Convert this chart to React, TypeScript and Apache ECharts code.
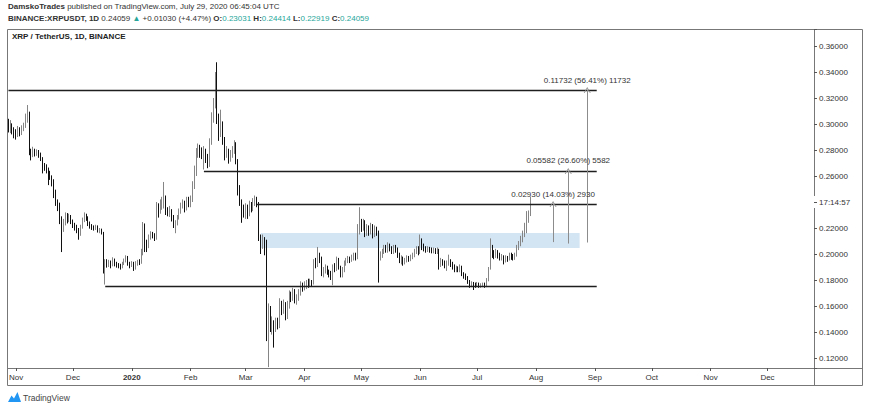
import React, { useEffect, useRef } from "react";
import * as echarts from "echarts";

// Daily candles, rows are [open, close, low, high]
const oct2019 = [
  [0.3000, 0.2960, 0.2935, 0.3040], [0.2960, 0.2985, 0.2930, 0.3030], [0.2985, 0.2955, 0.2920, 0.3005], [0.2955, 0.2935, 0.2890, 0.2975],
];
const nov2019 = [
  [0.2935, 0.2920, 0.2880, 0.2960], [0.2920, 0.2960, 0.2900, 0.2985], [0.2960, 0.2925, 0.2905, 0.2975], [0.2925, 0.2975, 0.2915, 0.2990],
  [0.2975, 0.2985, 0.2945, 0.3010], [0.2985, 0.3050, 0.2970, 0.3080], [0.3050, 0.3090, 0.3010, 0.3146], [0.3090, 0.2790, 0.2760, 0.3095],
  [0.2790, 0.2760, 0.2720, 0.2810], [0.2760, 0.2795, 0.2745, 0.2825], [0.2795, 0.2775, 0.2750, 0.2810], [0.2775, 0.2785, 0.2755, 0.2805],
  [0.2785, 0.2765, 0.2740, 0.2800], [0.2765, 0.2735, 0.2715, 0.2780], [0.2735, 0.2680, 0.2620, 0.2745], [0.2680, 0.2665, 0.2640, 0.2700],
  [0.2665, 0.2650, 0.2620, 0.2690], [0.2650, 0.2620, 0.2530, 0.2665], [0.2620, 0.2590, 0.2570, 0.2640], [0.2590, 0.2560, 0.2520, 0.2605],
  [0.2560, 0.2480, 0.2430, 0.2575], [0.2480, 0.2400, 0.2370, 0.2495], [0.2400, 0.2380, 0.2330, 0.2420], [0.2380, 0.2260, 0.2230, 0.2395],
  [0.2260, 0.2230, 0.2015, 0.2290], [0.2230, 0.2240, 0.2170, 0.2270], [0.2240, 0.2290, 0.2220, 0.2320], [0.2290, 0.2260, 0.2235, 0.2315],
  [0.2260, 0.2290, 0.2245, 0.2310], [0.2290, 0.2250, 0.2230, 0.2300],
];
const dec2019 = [
  [0.2250, 0.2220, 0.2200, 0.2265], [0.2220, 0.2205, 0.2180, 0.2240], [0.2205, 0.2190, 0.2160, 0.2225], [0.2190, 0.2150, 0.2110, 0.2200],
  [0.2150, 0.2210, 0.2140, 0.2225], [0.2210, 0.2260, 0.2195, 0.2280], [0.2260, 0.2300, 0.2245, 0.2320], [0.2300, 0.2280, 0.2255, 0.2310],
  [0.2280, 0.2235, 0.2215, 0.2290], [0.2235, 0.2215, 0.2195, 0.2250], [0.2215, 0.2205, 0.2185, 0.2230], [0.2205, 0.2200, 0.2180, 0.2220],
  [0.2200, 0.2210, 0.2185, 0.2225], [0.2210, 0.2180, 0.2165, 0.2220], [0.2180, 0.2185, 0.2160, 0.2200], [0.2185, 0.2165, 0.2150, 0.2195],
  [0.2165, 0.1890, 0.1850, 0.2170], [0.1890, 0.1945, 0.1765, 0.1960], [0.1945, 0.1920, 0.1895, 0.1960], [0.1920, 0.1935, 0.1900, 0.1955],
  [0.1935, 0.1915, 0.1890, 0.1950], [0.1915, 0.1955, 0.1905, 0.1975], [0.1955, 0.1925, 0.1905, 0.1965], [0.1925, 0.1915, 0.1895, 0.1940],
  [0.1915, 0.1905, 0.1890, 0.1930], [0.1905, 0.1900, 0.1880, 0.1925], [0.1900, 0.1925, 0.1890, 0.1940], [0.1925, 0.1945, 0.1915, 0.1965],
  [0.1945, 0.1975, 0.1935, 0.1990], [0.1975, 0.1925, 0.1910, 0.1985], [0.1925, 0.1915, 0.1890, 0.1940],
];
const jan2020 = [
  [0.1915, 0.1930, 0.1900, 0.1945], [0.1930, 0.1890, 0.1870, 0.1940], [0.1890, 0.1925, 0.1880, 0.1945], [0.1925, 0.1940, 0.1910, 0.1955],
  [0.1940, 0.1935, 0.1915, 0.1960], [0.1935, 0.2000, 0.1925, 0.2040], [0.2000, 0.2220, 0.1990, 0.2246], [0.2220, 0.2090, 0.2015, 0.2235],
  [0.2090, 0.2060, 0.2015, 0.2110], [0.2060, 0.2130, 0.2045, 0.2150], [0.2130, 0.2150, 0.2110, 0.2175], [0.2150, 0.2140, 0.2120, 0.2170],
  [0.2140, 0.2120, 0.2100, 0.2160], [0.2120, 0.2350, 0.2110, 0.2400], [0.2350, 0.2330, 0.2280, 0.2390], [0.2330, 0.2380, 0.2310, 0.2420],
  [0.2380, 0.2390, 0.2340, 0.2440], [0.2390, 0.2420, 0.2350, 0.2554], [0.2420, 0.2330, 0.2300, 0.2450], [0.2330, 0.2320, 0.2290, 0.2360],
  [0.2320, 0.2330, 0.2285, 0.2370], [0.2330, 0.2290, 0.2250, 0.2345], [0.2290, 0.2230, 0.2200, 0.2300], [0.2230, 0.2240, 0.2160, 0.2260],
  [0.2240, 0.2280, 0.2220, 0.2300], [0.2280, 0.2330, 0.2265, 0.2350], [0.2330, 0.2370, 0.2310, 0.2395], [0.2370, 0.2390, 0.2350, 0.2420],
  [0.2390, 0.2350, 0.2320, 0.2410], [0.2350, 0.2410, 0.2335, 0.2440], [0.2410, 0.2380, 0.2360, 0.2440],
];
const feb2020 = [
  [0.2380, 0.2420, 0.2360, 0.2450], [0.2420, 0.2520, 0.2400, 0.2560], [0.2520, 0.2620, 0.2500, 0.2680], [0.2620, 0.2780, 0.2600, 0.2815],
  [0.2780, 0.2810, 0.2740, 0.2850], [0.2810, 0.2780, 0.2740, 0.2840], [0.2780, 0.2770, 0.2730, 0.2820], [0.2770, 0.2790, 0.2650, 0.2830],
  [0.2790, 0.2750, 0.2700, 0.2810], [0.2750, 0.2690, 0.2660, 0.2770], [0.2690, 0.2860, 0.2670, 0.2890], [0.2860, 0.3050, 0.2840, 0.3090],
  [0.3050, 0.3150, 0.3010, 0.3200], [0.3150, 0.3340, 0.3120, 0.3400], [0.3340, 0.3050, 0.3000, 0.3475], [0.3050, 0.2950, 0.2870, 0.3080],
  [0.2950, 0.3000, 0.2900, 0.3110], [0.3000, 0.2880, 0.2840, 0.3020], [0.2880, 0.2780, 0.2720, 0.2900], [0.2780, 0.2790, 0.2740, 0.2830],
  [0.2790, 0.2740, 0.2695, 0.2810], [0.2740, 0.2770, 0.2710, 0.2800], [0.2770, 0.2800, 0.2740, 0.2830], [0.2800, 0.2840, 0.2770, 0.2875],
  [0.2840, 0.2720, 0.2690, 0.2860], [0.2720, 0.2500, 0.2450, 0.2730], [0.2500, 0.2400, 0.2370, 0.2530], [0.2400, 0.2340, 0.2240, 0.2420],
  [0.2340, 0.2300, 0.2280, 0.2380],
];
const mar2020 = [
  [0.2300, 0.2360, 0.2270, 0.2390], [0.2360, 0.2310, 0.2270, 0.2380], [0.2310, 0.2380, 0.2290, 0.2410], [0.2380, 0.2350, 0.2320, 0.2400],
  [0.2350, 0.2410, 0.2330, 0.2430], [0.2410, 0.2420, 0.2370, 0.2450], [0.2420, 0.2390, 0.2360, 0.2440], [0.2390, 0.2120, 0.2100, 0.2400],
  [0.2120, 0.2090, 0.2000, 0.2150], [0.2090, 0.2110, 0.2040, 0.2150], [0.2110, 0.2080, 0.1990, 0.2130], [0.2080, 0.1380, 0.1330, 0.2110],
  [0.1380, 0.1560, 0.1130, 0.1620], [0.1560, 0.1420, 0.1400, 0.1600], [0.1420, 0.1450, 0.1380, 0.1520], [0.1450, 0.1420, 0.1280, 0.1490],
  [0.1420, 0.1480, 0.1400, 0.1510], [0.1480, 0.1450, 0.1420, 0.1510], [0.1450, 0.1620, 0.1430, 0.1660], [0.1620, 0.1560, 0.1530, 0.1640],
  [0.1560, 0.1610, 0.1540, 0.1650], [0.1610, 0.1510, 0.1490, 0.1630], [0.1510, 0.1600, 0.1500, 0.1640], [0.1600, 0.1680, 0.1580, 0.1720],
  [0.1680, 0.1660, 0.1630, 0.1710], [0.1660, 0.1710, 0.1640, 0.1740], [0.1710, 0.1640, 0.1620, 0.1730], [0.1640, 0.1660, 0.1610, 0.1690],
  [0.1660, 0.1700, 0.1640, 0.1730], [0.1700, 0.1760, 0.1680, 0.1790], [0.1760, 0.1740, 0.1710, 0.1780],
];
const apr2020 = [
  [0.1740, 0.1750, 0.1720, 0.1790], [0.1750, 0.1780, 0.1730, 0.1800], [0.1780, 0.1760, 0.1740, 0.1810], [0.1760, 0.1790, 0.1745, 0.1810],
  [0.1790, 0.1775, 0.1750, 0.1800], [0.1775, 0.1940, 0.1765, 0.1960], [0.1940, 0.1920, 0.1890, 0.1970], [0.1920, 0.1980, 0.1900, 0.2054],
  [0.1980, 0.1960, 0.1930, 0.2010], [0.1960, 0.1850, 0.1830, 0.1980], [0.1850, 0.1870, 0.1820, 0.1900], [0.1870, 0.1890, 0.1850, 0.1920],
  [0.1890, 0.1860, 0.1840, 0.1910], [0.1860, 0.1850, 0.1820, 0.1880], [0.1850, 0.1820, 0.1800, 0.1870], [0.1820, 0.1900, 0.1760, 0.1920],
  [0.1900, 0.1890, 0.1860, 0.1930], [0.1890, 0.1950, 0.1870, 0.1980], [0.1950, 0.1900, 0.1880, 0.1970], [0.1900, 0.1840, 0.1820, 0.1910],
  [0.1840, 0.1880, 0.1820, 0.1900], [0.1880, 0.1930, 0.1860, 0.1950], [0.1930, 0.1950, 0.1910, 0.1970], [0.1950, 0.1960, 0.1930, 0.1985],
  [0.1960, 0.1950, 0.1930, 0.1980], [0.1950, 0.1975, 0.1940, 0.1995], [0.1975, 0.1990, 0.1950, 0.2010], [0.1990, 0.1970, 0.1950, 0.2010],
  [0.1970, 0.2200, 0.1960, 0.2230], [0.2200, 0.2240, 0.2150, 0.2360],
];
const may2020 = [
  [0.2240, 0.2200, 0.2170, 0.2270], [0.2200, 0.2250, 0.2180, 0.2270], [0.2250, 0.2160, 0.2130, 0.2260], [0.2160, 0.2200, 0.2140, 0.2230],
  [0.2200, 0.2170, 0.2140, 0.2220], [0.2170, 0.2210, 0.2150, 0.2240], [0.2210, 0.2150, 0.2120, 0.2230], [0.2150, 0.2190, 0.2130, 0.2220],
  [0.2190, 0.2170, 0.2140, 0.2210], [0.2170, 0.1980, 0.1780, 0.2180], [0.1980, 0.1990, 0.1950, 0.2020], [0.1990, 0.2020, 0.1970, 0.2040],
  [0.2020, 0.2050, 0.2000, 0.2070], [0.2050, 0.2030, 0.2010, 0.2070], [0.2030, 0.2060, 0.2010, 0.2090], [0.2060, 0.2040, 0.2020, 0.2080],
  [0.2040, 0.2020, 0.2000, 0.2060], [0.2020, 0.2050, 0.2000, 0.2070], [0.2050, 0.2030, 0.2010, 0.2070], [0.2030, 0.1990, 0.1970, 0.2050],
  [0.1990, 0.1950, 0.1930, 0.2010], [0.1950, 0.1960, 0.1920, 0.1990], [0.1960, 0.1930, 0.1910, 0.1980], [0.1930, 0.1950, 0.1920, 0.1970],
  [0.1950, 0.1970, 0.1935, 0.1990], [0.1970, 0.1960, 0.1940, 0.1985], [0.1960, 0.1980, 0.1945, 0.1995], [0.1980, 0.1990, 0.1960, 0.2010],
  [0.1990, 0.2020, 0.1975, 0.2040], [0.2020, 0.2040, 0.2000, 0.2060], [0.2040, 0.2010, 0.1990, 0.2060],
];
const jun2020 = [
  [0.2010, 0.2100, 0.2000, 0.2150], [0.2100, 0.2060, 0.2030, 0.2120], [0.2060, 0.2040, 0.2020, 0.2080], [0.2040, 0.2030, 0.2010, 0.2060],
  [0.2030, 0.2040, 0.2015, 0.2060], [0.2040, 0.2030, 0.2010, 0.2055], [0.2030, 0.2025, 0.2005, 0.2050], [0.2025, 0.2030, 0.2005, 0.2050],
  [0.2030, 0.2020, 0.2000, 0.2045], [0.2020, 0.2030, 0.2000, 0.2050], [0.2030, 0.1930, 0.1880, 0.2040], [0.1930, 0.1940, 0.1900, 0.1970],
  [0.1940, 0.1930, 0.1910, 0.1960], [0.1930, 0.1910, 0.1890, 0.1950], [0.1910, 0.1930, 0.1870, 0.1950], [0.1930, 0.1940, 0.1910, 0.1995],
  [0.1940, 0.1920, 0.1900, 0.1960], [0.1920, 0.1900, 0.1880, 0.1940], [0.1900, 0.1880, 0.1860, 0.1920], [0.1880, 0.1890, 0.1860, 0.1910],
  [0.1890, 0.1880, 0.1860, 0.1905], [0.1880, 0.1900, 0.1860, 0.1920], [0.1900, 0.1850, 0.1830, 0.1910], [0.1850, 0.1830, 0.1810, 0.1860],
  [0.1830, 0.1820, 0.1800, 0.1850], [0.1820, 0.1790, 0.1770, 0.1830], [0.1790, 0.1760, 0.1740, 0.1800], [0.1760, 0.1770, 0.1745, 0.1790],
  [0.1770, 0.1760, 0.1723, 0.1785], [0.1760, 0.1755, 0.1740, 0.1780],
];
const jul2020 = [
  [0.1755, 0.1770, 0.1745, 0.1785], [0.1770, 0.1755, 0.1740, 0.1780], [0.1755, 0.1760, 0.1740, 0.1775], [0.1760, 0.1765, 0.1745, 0.1780],
  [0.1765, 0.1755, 0.1740, 0.1780], [0.1755, 0.1800, 0.1745, 0.1815], [0.1800, 0.1890, 0.1790, 0.1900], [0.1890, 0.2050, 0.1880, 0.2120],
  [0.2050, 0.2000, 0.1970, 0.2070], [0.2000, 0.1990, 0.1960, 0.2030], [0.1990, 0.2010, 0.1970, 0.2040], [0.2010, 0.1990, 0.1965, 0.2030],
  [0.1990, 0.1970, 0.1950, 0.2010], [0.1970, 0.1980, 0.1950, 0.2000], [0.1980, 0.1950, 0.1920, 0.1990], [0.1950, 0.1970, 0.1935, 0.1990],
  [0.1970, 0.1960, 0.1940, 0.1985], [0.1960, 0.1990, 0.1950, 0.2010], [0.1990, 0.1980, 0.1955, 0.2010], [0.1980, 0.1970, 0.1950, 0.2000],
  [0.1970, 0.1990, 0.1955, 0.2010], [0.1990, 0.2050, 0.1980, 0.2070], [0.2050, 0.2080, 0.2030, 0.2100], [0.2080, 0.2110, 0.2060, 0.2140],
  [0.2110, 0.2160, 0.2090, 0.2180], [0.2160, 0.2200, 0.2130, 0.2240], [0.2200, 0.2290, 0.2160, 0.2330], [0.2290, 0.2303, 0.2240, 0.2335],
  [0.23031, 0.24059, 0.22919, 0.24414],
];

// Axis span (dates shown on the time axis and the price range)
const firstDate = "2019-10-28";
const lastDate = "2020-12-25";
const priceMin = 0.11231;
const priceMax = 0.37308;
const monthNames = ["Jan", "Feb", "Mar", "Apr", "May", "Jun", "Jul", "Aug", "Sep", "Oct", "Nov", "Dec"];

// Drawn levels and measuring arrows
const levelPrices = [0.32615, 0.26385, 0.23846, 0.17538];
const levelStarts = ["2019-10-28", "2020-02-08", "2020-03-07", "2019-12-18"];
const levelEnd = "2020-09-02";
const zoneBounds = [0.2162, 0.2046];
const zoneDates = ["2020-03-09", "2020-08-24"];
const arrowDates = ["2020-08-10", "2020-08-18", "2020-08-28"];
const arrowFrom = [0.20916, 0.20803, 0.20883];
const arrowTo = [0.23846, 0.26385, 0.32615];
const arrowTexts = ["0.02930 (14.03%) 2930", "0.05582 (26.60%) 5582", "0.11732 (56.41%) 11732"];

function buildDates(start: string, end: string): string[] {
  const out: string[] = [];
  const [sy, sm, sd] = start.split("-").map(Number);
  const [ey, em, ed] = end.split("-").map(Number);
  let t = Date.UTC(sy, sm - 1, sd);
  const tEnd = Date.UTC(ey, em - 1, ed);
  while (t <= tEnd) {
    const d = new Date(t);
    const s = d.getUTCFullYear() + "-" + String(d.getUTCMonth() + 1).padStart(2, "0") + "-" + String(d.getUTCDate()).padStart(2, "0");
    out.push(s);
    t += 86400000;
  }
  return out;
}

const FONT = "Liberation Sans, Arial, sans-serif";
const GREEN = "#26a69a";

export default function App() {
  const ref = useRef<HTMLDivElement>(null);
  useEffect(() => {
    document.body.style.margin = "0";
    if (!ref.current) return;
    const chart = echarts.init(ref.current, undefined, { renderer: "svg" });
    const dates = buildDates(firstDate, lastDate);
    const candles = [
      ...oct2019, ...nov2019, ...dec2019, ...jan2020, ...feb2020, ...mar2020,
      ...apr2020, ...may2020, ...jun2020, ...jul2020,
    ];
    const isMonthStart = (_i: number, v: string) => v.endsWith("-01");
    const chevron = "path://M0,10 L5,0 L10,10 L8.8,10 L5,2.6 L1.2,10 Z";

    const lineData: any[] = [];
    levelPrices.forEach((p, i) => {
      lineData.push([
        { coord: [levelStarts[i], p], symbol: "none", lineStyle: { color: "#1e1e1e", width: 1.3, type: "solid" }, label: { show: false } },
        { coord: [levelEnd, p], symbol: "none" },
      ]);
    });
    arrowDates.forEach((d, i) => {
      lineData.push([
        {
          coord: [d, arrowFrom[i]], symbol: "none",
          lineStyle: { color: "#8c8c8c", width: 1, type: "solid" },
          label: { show: true, position: "end", distance: 6, formatter: arrowTexts[i], fontSize: 8, color: "#333", fontFamily: FONT },
        },
        { coord: [d, arrowTo[i]], symbol: chevron, symbolSize: [7, 6] },
      ]);
    });

    chart.setOption({
      animation: false,
      backgroundColor: "#ffffff",
      grid: { left: 7.5, right: 57, top: 29, bottom: 38, containLabel: false },
      xAxis: {
        type: "category",
        data: dates,
        boundaryGap: true,
        axisLine: { show: false },
        axisTick: { show: true, interval: isMonthStart, alignWithLabel: true, length: 3, lineStyle: { color: "#555" } },
        axisLabel: {
          interval: isMonthStart,
          margin: 5,
          fontSize: 8,
          color: "#333",
          fontFamily: FONT,
          formatter: (v: string) => {
            const [y, m] = v.split("-").map(Number);
            return m === 1 ? "{y|" + y + "}" : monthNames[m - 1];
          },
          rich: { y: { fontWeight: "bold", fontSize: 8, color: "#333", fontFamily: FONT } },
        },
        splitLine: { show: false },
      },
      yAxis: {
        type: "value",
        position: "right",
        min: priceMin,
        max: priceMax,
        splitNumber: 12,
        scale: true,
        axisLine: { show: false },
        axisTick: { show: true, length: 3, lineStyle: { color: "#555" } },
        axisLabel: {
          margin: 5,
          fontSize: 8,
          color: "#333",
          fontFamily: FONT,
          formatter: (v: number) => {
            const k = v / 0.02;
            if (Math.abs(k - Math.round(k)) > 1e-6) return "";
            if (Math.abs(v - 0.24) < 1e-6) return "";
            return v.toFixed(5);
          },
        },
        splitLine: { show: false },
      },
      series: [
        {
          type: "line",
          data: [],
          z: 1,
          silent: true,
          markArea: {
            silent: true,
            itemStyle: { color: "#d3e4f3" },
            data: [[{ coord: [zoneDates[0], zoneBounds[0]] }, { coord: [zoneDates[1], zoneBounds[1]] }]],
          },
        },
        {
          type: "candlestick",
          data: candles,
          z: 3,
          barWidth: 1.3,
          itemStyle: {
            color: "#858585",
            color0: "#101010",
            borderColor: "#858585",
            borderColor0: "#101010",
            borderWidth: 1,
          },
          markLine: {
            silent: true,
            animation: false,
            symbol: ["none", "none"],
            precision: 5,
            data: lineData,
          },
        },
      ],
      graphic: [
        { type: "rect", shape: { x: 7.5, y: 29.5, width: 855, height: 356 }, style: { fill: "none", stroke: "#777", lineWidth: 1 }, silent: true },
        { type: "line", shape: { x1: 7.5, y1: 368.5, x2: 862.5, y2: 368.5 }, style: { stroke: "#777", lineWidth: 1 }, silent: true },
        { type: "line", shape: { x1: 814.5, y1: 29.5, x2: 814.5, y2: 196 }, style: { stroke: "#777", lineWidth: 1 }, silent: true },
        { type: "line", shape: { x1: 814.5, y1: 208, x2: 814.5, y2: 385.5 }, style: { stroke: "#777", lineWidth: 1 }, silent: true },
        {
          type: "text", x: 819, y: 202,
          style: { text: "17:14:57", fontSize: 8, fill: "#333", fontFamily: FONT, verticalAlign: "middle" },
          silent: true,
        },
        {
          type: "text", x: 8, y: 6,
          style: {
            text: "{b|DamskoTrades} published on TradingView.com, July 29, 2020 06:45:04 UTC",
            fontSize: 8, fill: "#333", fontFamily: FONT, verticalAlign: "middle",
            rich: { b: { fontWeight: "bold", fontSize: 8, fill: "#333", fontFamily: FONT } },
          },
          silent: true,
        },
        {
          type: "text", x: 8, y: 18,
          style: {
            text: "{b|BINANCE:XRPUSDT, 1D} 0.24059 {g|▲} +0.01030 (+4.47%) {b|O:}{g|0.23031} {b|H:}{g|0.24414} {b|L:}{g|0.22919} {b|C:}{g|0.24059}",
            fontSize: 8, fill: "#333", fontFamily: FONT, verticalAlign: "middle",
            rich: {
              b: { fontWeight: "bold", fontSize: 8, fill: "#333", fontFamily: FONT },
              g: { fontSize: 8, fill: GREEN, fontFamily: FONT },
            },
          },
          silent: true,
        },
        {
          type: "text", x: 12, y: 36.5,
          style: { text: "XRP / TetherUS, 1D, BINANCE", fontSize: 8, fontWeight: "bold", fill: "#222", fontFamily: FONT, verticalAlign: "middle" },
          silent: true,
        },
        {
          type: "polygon",
          shape: { points: [[8, 402], [11.5, 395.5], [14, 398.5], [17.5, 392], [21, 402]] },
          style: { fill: "#2196f3" },
          silent: true,
        },
        {
          type: "text", x: 23, y: 397.5,
          style: { text: "TradingView", fontSize: 8.5, fill: "#444", fontFamily: FONT, verticalAlign: "middle" },
          silent: true,
        },
      ],
    });
    return () => chart.dispose();
  }, []);
  return <div ref={ref} style={{ width: 871, height: 406 }} />;
}
